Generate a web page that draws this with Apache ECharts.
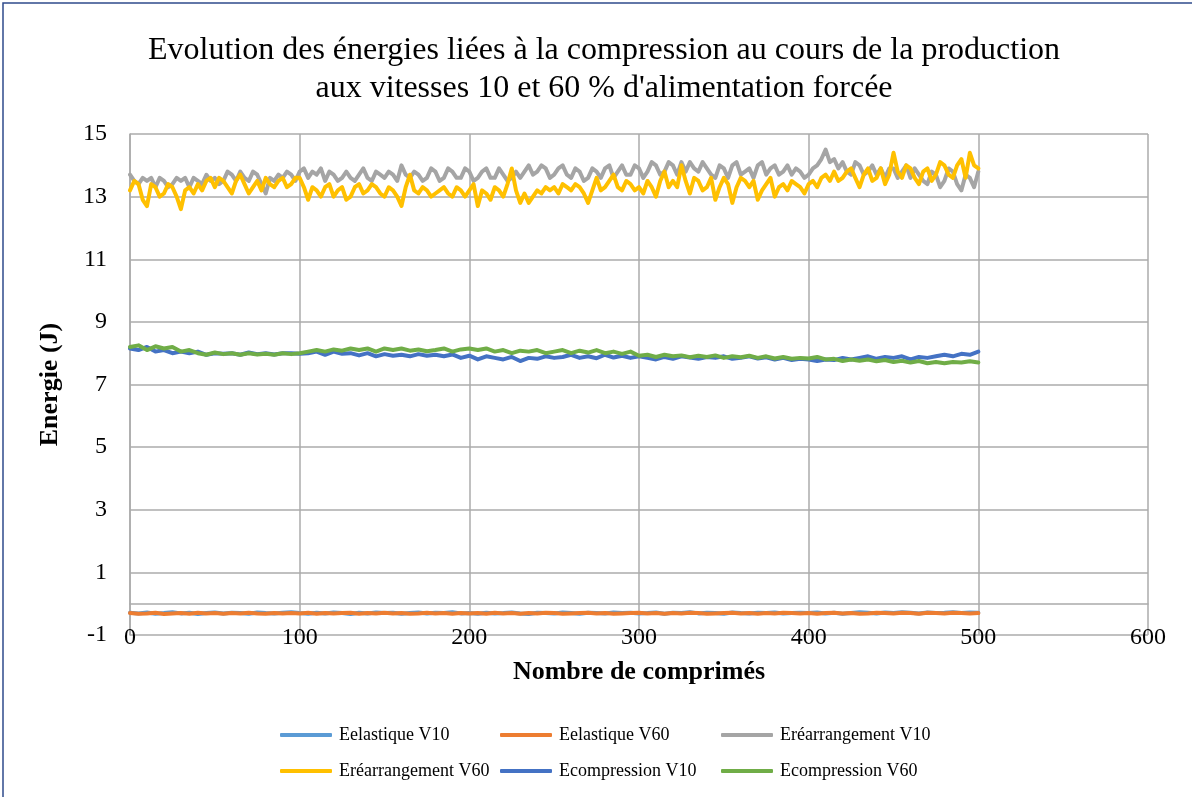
<!DOCTYPE html>
<html>
<head>
<meta charset="utf-8">
<script src="https://cdn.jsdelivr.net/npm/echarts@6/dist/echarts.min.js"></script>
<style>
  html, body { margin: 0; padding: 0; background: #fff; }
  #chart { width: 1192px; height: 797px; }
</style>
</head>
<body>
<div id="chart"></div>
<script>
// nombre de comprimés (un point lu tous les 5 comprimés)
const sampleX = [0, 5, 10, 15, 20, 25, 30, 35, 40, 45, 50, 55, 60, 65, 70, 75, 80, 85, 90, 95,
  100, 105, 110, 115, 120, 125, 130, 135, 140, 145, 150, 155, 160, 165, 170, 175, 180, 185, 190, 195,
  200, 205, 210, 215, 220, 225, 230, 235, 240, 245, 250, 255, 260, 265, 270, 275, 280, 285, 290, 295,
  300, 305, 310, 315, 320, 325, 330, 335, 340, 345, 350, 355, 360, 365, 370, 375, 380, 385, 390, 395,
  400, 405, 410, 415, 420, 425, 430, 435, 440, 445, 450, 455, 460, 465, 470, 475, 480, 485, 490, 495, 500];

// lecture plus fine (tous les 2,5 comprimés) pour les courbes de réarrangement
const denseX = [0, 2.5, 5, 7.5, 10, 12.5, 15, 17.5, 20, 22.5, 25, 27.5, 30, 32.5, 35, 37.5, 40, 42.5, 45, 47.5,
  50, 52.5, 55, 57.5, 60, 62.5, 65, 67.5, 70, 72.5, 75, 77.5, 80, 82.5, 85, 87.5, 90, 92.5, 95, 97.5,
  100, 102.5, 105, 107.5, 110, 112.5, 115, 117.5, 120, 122.5, 125, 127.5, 130, 132.5, 135, 137.5, 140, 142.5, 145, 147.5,
  150, 152.5, 155, 157.5, 160, 162.5, 165, 167.5, 170, 172.5, 175, 177.5, 180, 182.5, 185, 187.5, 190, 192.5, 195, 197.5,
  200, 202.5, 205, 207.5, 210, 212.5, 215, 217.5, 220, 222.5, 225, 227.5, 230, 232.5, 235, 237.5, 240, 242.5, 245, 247.5,
  250, 252.5, 255, 257.5, 260, 262.5, 265, 267.5, 270, 272.5, 275, 277.5, 280, 282.5, 285, 287.5, 290, 292.5, 295, 297.5,
  300, 302.5, 305, 307.5, 310, 312.5, 315, 317.5, 320, 322.5, 325, 327.5, 330, 332.5, 335, 337.5, 340, 342.5, 345, 347.5,
  350, 352.5, 355, 357.5, 360, 362.5, 365, 367.5, 370, 372.5, 375, 377.5, 380, 382.5, 385, 387.5, 390, 392.5, 395, 397.5,
  400, 402.5, 405, 407.5, 410, 412.5, 415, 417.5, 420, 422.5, 425, 427.5, 430, 432.5, 435, 437.5, 440, 442.5, 445, 447.5,
  450, 452.5, 455, 457.5, 460, 462.5, 465, 467.5, 470, 472.5, 475, 477.5, 480, 482.5, 485, 487.5, 490, 492.5, 495, 497.5, 500];

const eelastiqueV10 = [-0.29, -0.31, -0.28, -0.32, -0.30, -0.27, -0.31, -0.29, -0.33, -0.30, -0.28, -0.31, -0.29, -0.30, -0.32, -0.28, -0.30, -0.31, -0.29, -0.27,
  -0.30, -0.32, -0.29, -0.31, -0.28, -0.30, -0.33, -0.29, -0.31, -0.28, -0.30, -0.29, -0.32, -0.30, -0.28, -0.31, -0.29, -0.30, -0.27, -0.31,
  -0.30, -0.32, -0.29, -0.31, -0.30, -0.28, -0.31, -0.33, -0.29, -0.30, -0.31, -0.28, -0.30, -0.32, -0.29, -0.30, -0.31, -0.28, -0.30, -0.29,
  -0.31, -0.30, -0.28, -0.32, -0.29, -0.30, -0.27, -0.31, -0.29, -0.30, -0.32, -0.28, -0.30, -0.31, -0.29, -0.30, -0.28, -0.31, -0.30, -0.29,
  -0.30, -0.28, -0.31, -0.29, -0.32, -0.30, -0.27, -0.29, -0.31, -0.28, -0.30, -0.27, -0.29, -0.31, -0.28, -0.30, -0.29, -0.27, -0.30, -0.28, -0.29];

const eelastiqueV60 = [-0.30, -0.32, -0.31, -0.29, -0.33, -0.31, -0.30, -0.32, -0.29, -0.31, -0.30, -0.32, -0.30, -0.31, -0.29, -0.31, -0.32, -0.30, -0.31, -0.30,
  -0.31, -0.29, -0.32, -0.30, -0.31, -0.30, -0.29, -0.32, -0.30, -0.31, -0.29, -0.31, -0.30, -0.32, -0.31, -0.29, -0.31, -0.30, -0.32, -0.30,
  -0.31, -0.30, -0.32, -0.29, -0.31, -0.30, -0.32, -0.30, -0.31, -0.29, -0.30, -0.32, -0.31, -0.30, -0.29, -0.31, -0.30, -0.32, -0.31, -0.30,
  -0.29, -0.31, -0.30, -0.32, -0.30, -0.31, -0.29, -0.30, -0.32, -0.31, -0.30, -0.29, -0.31, -0.30, -0.32, -0.30, -0.31, -0.29, -0.30, -0.31,
  -0.30, -0.32, -0.30, -0.29, -0.31, -0.30, -0.32, -0.31, -0.29, -0.30, -0.31, -0.29, -0.30, -0.32, -0.29, -0.30, -0.31, -0.29, -0.30, -0.31, -0.30];

const erearrangementV10 = [13.7, 13.5, 13.4, 13.6, 13.5, 13.6, 13.3, 13.6, 13.5, 13.3, 13.4, 13.6, 13.5, 13.6, 13.3, 13.6, 13.5, 13.4, 13.7, 13.5,
  13.6, 13.4, 13.5, 13.8, 13.7, 13.5, 13.8, 13.6, 13.5, 13.8, 13.7, 13.4, 13.1, 13.6, 13.5, 13.7, 13.6, 13.8, 13.7, 13.5,
  13.8, 13.9, 13.6, 13.8, 13.7, 13.9, 13.5, 13.8, 13.7, 13.5, 13.6, 13.8, 13.6, 13.5, 13.7, 13.9, 13.6, 13.5, 13.8, 13.7,
  13.6, 13.8, 13.7, 13.5, 14.0, 13.7, 13.6, 13.8, 13.7, 13.5, 13.6, 13.9, 13.8, 13.5, 13.6, 13.9, 13.8, 13.6, 13.6, 13.9,
  13.8, 13.5, 13.6, 13.8, 13.9, 13.6, 13.6, 13.9, 13.7, 13.5, 13.6, 13.8, 13.6, 13.8, 14.0, 13.7, 13.8, 14.0, 13.9, 13.6,
  13.7, 13.9, 14.0, 13.7, 13.6, 13.9, 13.8, 13.5, 13.6, 13.9, 13.8, 13.6, 13.9, 14.0, 13.6, 13.8, 14.0, 13.7, 13.7, 14.0,
  13.9, 13.6, 13.8, 14.1, 14.0, 13.7, 13.8, 14.1, 14.0, 13.7, 14.1, 13.8, 14.1, 13.9, 13.8, 14.1, 13.9, 13.7, 13.6, 14.0,
  13.9, 13.6, 14.0, 14.1, 13.7, 13.8, 13.9, 13.6, 14.0, 14.1, 13.7, 13.9, 14.0, 13.7, 13.8, 14.0, 13.7, 13.9, 13.8, 13.6,
  13.7, 13.9, 14.0, 14.2, 14.5, 14.1, 14.2, 13.9, 14.1, 13.8, 13.7, 14.1, 14.0, 13.7, 13.8, 14.0, 13.7, 13.9, 13.6, 13.9,
  13.9, 13.6, 13.8, 14.0, 13.6, 13.9, 13.7, 13.5, 13.4, 13.8, 13.7, 13.3, 13.5, 13.9, 13.8, 13.4, 13.2, 13.7, 13.6, 13.3, 13.8];

const erearrangementV60 = [13.2, 13.5, 13.4, 12.9, 12.7, 13.4, 13.3, 13.0, 13.1, 13.4, 13.3, 13.0, 12.6, 13.2, 13.3, 13.1, 13.4, 13.2, 13.5, 13.6,
  13.3, 13.6, 13.5, 13.3, 13.1, 13.5, 13.7, 13.4, 13.1, 13.3, 13.5, 13.2, 13.6, 13.4, 13.3, 13.5, 13.6, 13.3, 13.4, 13.6,
  13.6, 13.3, 12.9, 13.3, 13.2, 13.0, 13.3, 13.4, 13.0, 13.2, 13.3, 12.9, 13.0, 13.3, 13.4, 13.1, 13.2, 13.4, 13.3, 13.1,
  13.0, 13.3, 13.2, 13.0, 12.7, 13.3, 13.7, 13.2, 13.1, 13.3, 13.2, 13.0, 13.1, 13.2, 13.3, 13.1, 13.0, 13.3, 13.2, 13.0,
  13.2, 13.4, 12.7, 13.2, 13.1, 12.9, 13.3, 13.2, 13.0, 13.4, 13.9, 13.2, 12.8, 13.1, 12.8, 13.0, 13.2, 13.1, 13.3, 13.2,
  13.3, 13.1, 13.4, 13.3, 13.2, 13.4, 13.3, 13.1, 12.8, 13.2, 13.6, 13.2, 13.3, 13.5, 13.7, 13.3, 13.2, 13.5, 13.4, 13.2,
  13.3, 13.1, 13.5, 13.3, 13.0, 13.5, 13.8, 13.3, 13.5, 13.3, 14.0, 13.5, 13.1, 13.6, 13.5, 13.2, 13.3, 13.6, 12.9, 13.3,
  13.6, 13.4, 12.8, 13.3, 13.6, 13.5, 13.3, 13.5, 12.9, 13.2, 13.4, 13.6, 13.0, 13.3, 13.4, 13.2, 13.5, 13.4, 13.3, 13.1,
  13.4, 13.5, 13.3, 13.6, 13.7, 13.5, 13.8, 13.5, 13.6, 13.8, 13.9, 13.6, 13.3, 13.7, 13.9, 13.5, 13.6, 13.9, 13.4, 13.7,
  14.4, 13.8, 13.6, 14.0, 13.9, 13.6, 13.4, 13.8, 13.9, 13.5, 13.7, 14.1, 14.0, 13.7, 13.6, 14.0, 14.2, 13.6, 14.4, 14.0, 13.9];

const ecompressionV10 = [8.15, 8.10, 8.20, 8.05, 8.10, 8.00, 8.05, 8.00, 8.05, 7.95, 8.00, 7.98, 8.00, 7.95, 8.02, 7.97, 8.00, 7.96, 8.00, 8.00,
  7.98, 8.00, 8.05, 7.95, 8.05, 7.98, 8.00, 7.93, 8.00, 7.90, 7.97, 7.92, 7.95, 7.90, 7.97, 7.92, 7.95, 7.90, 7.96, 7.85,
  7.92, 7.80, 7.90, 7.85, 7.80, 7.88, 7.75, 7.85, 7.82, 7.90, 7.85, 7.88, 7.95, 7.85, 7.90, 7.84, 7.95, 7.86, 7.92, 7.85,
  7.90, 7.85, 7.80, 7.88, 7.82, 7.90, 7.86, 7.82, 7.88, 7.85, 7.90, 7.82, 7.85, 7.90, 7.83, 7.87, 7.80, 7.85, 7.78, 7.82,
  7.80, 7.75, 7.80, 7.78, 7.85, 7.80, 7.85, 7.90, 7.82, 7.88, 7.85, 7.90, 7.80, 7.88, 7.85, 7.90, 7.95, 7.90, 7.98, 7.95, 8.05];

const ecompressionV60 = [8.20, 8.25, 8.10, 8.22, 8.15, 8.20, 8.05, 8.10, 8.00, 7.95, 8.02, 7.97, 8.00, 7.95, 8.00, 7.96, 7.98, 7.95, 8.00, 7.97,
  8.00, 8.05, 8.10, 8.05, 8.12, 8.08, 8.15, 8.10, 8.15, 8.05, 8.15, 8.10, 8.15, 8.08, 8.12, 8.06, 8.10, 8.15, 8.05, 8.12,
  8.15, 8.10, 8.15, 8.05, 8.10, 8.00, 8.08, 8.05, 8.10, 8.00, 8.05, 8.10, 8.00, 8.08, 8.02, 8.10, 8.00, 8.05, 7.98, 8.05,
  7.92, 7.95, 7.88, 7.95, 7.90, 7.93, 7.87, 7.92, 7.88, 7.93, 7.85, 7.90, 7.87, 7.92, 7.85, 7.90, 7.83, 7.88, 7.82, 7.85,
  7.83, 7.88, 7.80, 7.82, 7.75, 7.80, 7.76, 7.80, 7.74, 7.78, 7.72, 7.76, 7.70, 7.75, 7.68, 7.72, 7.68, 7.72, 7.70, 7.74, 7.70];

const seriesList = [
  { name: "Eelastique V10", color: "#5B9BD5", x: sampleX, data: eelastiqueV10 },
  { name: "Eelastique V60", color: "#ED7D31", x: sampleX, data: eelastiqueV60 },
  { name: "Eréarrangement V10", color: "#A5A5A5", x: denseX, data: erearrangementV10 },
  { name: "Eréarrangement V60", color: "#FFC000", x: denseX, data: erearrangementV60 },
  { name: "Ecompression V10", color: "#4472C4", x: sampleX, data: ecompressionV10 },
  { name: "Ecompression V60", color: "#70AD47", x: sampleX, data: ecompressionV60 },
];

const font = "Liberation Serif";
const gridColor = "#ABABAB";

let myChart = echarts.init(document.getElementById("chart"));

let seriesData = [];
seriesList.forEach((item) => {
  seriesData.push({
    name: item.name,
    type: "line",
    symbol: "none",
    data: item.x.map((x, i) => [x, item.data[i]]),
    lineStyle: { width: 4, color: item.color, cap: "round", join: "round" },
    itemStyle: { color: item.color },
  });
});

// une légende par entrée pour garder les colonnes d'Excel
const legendPos = [
  [280, 726], [500, 726], [721, 726],
  [280, 762], [500, 762], [721, 762],
];
let legends = seriesList.map((item, i) => ({
  data: [item.name],
  left: legendPos[i][0],
  top: legendPos[i][1],
  padding: 0,
  icon: "roundRect",
  itemWidth: 52,
  itemHeight: 4,
  itemGap: 0,
  textStyle: { fontFamily: font, fontSize: 18, color: "#000", padding: [0, 0, 0, 2] },
}));

let option = {
  animation: false,
  backgroundColor: "#fff",
  title: {
    text: "Evolution des énergies liées à la compression au cours de la production\naux vitesses 10 et 60 % d'alimentation forcée",
    left: 599,
    top: 27,
    textAlign: "center",
    textStyle: {
      fontFamily: font,
      fontSize: 32,
      fontWeight: "normal",
      color: "#000",
      lineHeight: 38,
    },
  },
  legend: legends,
  grid: {
    left: 130,
    right: 44,
    top: 134,
    bottom: 162,
  },
  xAxis: {
    type: "value",
    min: 0,
    max: 600,
    interval: 100,
    name: "Nombre de comprimés",
    nameLocation: "middle",
    nameGap: 24,
    nameTextStyle: { fontFamily: font, fontSize: 26, fontWeight: "bold", color: "#000" },
    axisLine: { show: true, lineStyle: { color: gridColor, width: 1.5 } },
    axisTick: { show: false },
    axisLabel: {
      fontFamily: font,
      fontSize: 24,
      color: "#000",
      margin: 3,
      verticalAlign: "middle",
    },
    splitLine: { show: true, lineStyle: { color: gridColor, width: 1.5 } },
  },
  yAxis: {
    type: "value",
    min: -1,
    max: 15,
    interval: 2,
    name: "Energie (J)",
    nameLocation: "middle",
    nameGap: 67,
    nameTextStyle: { fontFamily: font, fontSize: 26, fontWeight: "bold", color: "#000" },
    axisLine: { show: true, lineStyle: { color: gridColor, width: 1.5 } },
    axisTick: { show: false },
    axisLabel: { fontFamily: font, fontSize: 24, color: "#000", margin: 23 },
    splitLine: { show: true, lineStyle: { color: gridColor, width: 1.5 } },
  },
  graphic: [
    {
      type: "rect",
      shape: { x: 3, y: 3, width: 1200, height: 800 },
      style: { fill: "none", stroke: "#2F4B8C", lineWidth: 1.5 },
      silent: true,
    },
  ],
  series: seriesData,
};

myChart.setOption(option);
</script>
</body>
</html>
